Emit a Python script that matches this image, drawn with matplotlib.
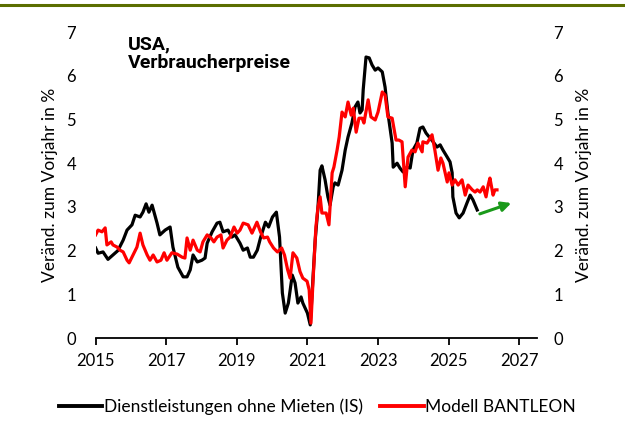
import matplotlib
matplotlib.use('Agg')
import matplotlib.pyplot as plt
from matplotlib.lines import Line2D

# Dienstleistungen ohne Mieten (black)
black_t = [2015.0, 2015.07, 2015.21, 2015.35, 2015.49, 2015.63, 2015.78, 2015.89, 2016.03, 2016.12,
           2016.26, 2016.34, 2016.43, 2016.51, 2016.6, 2016.74, 2016.82, 2016.97, 2017.11, 2017.19,
           2017.33, 2017.48, 2017.59, 2017.68, 2017.76, 2017.88, 2018.01, 2018.1, 2018.16, 2018.3,
           2018.44, 2018.52, 2018.61, 2018.75, 2018.86, 2018.95, 2019.09, 2019.18, 2019.3, 2019.38,
           2019.47, 2019.58, 2019.67, 2019.81, 2019.9, 2020.01, 2020.12, 2020.21, 2020.29, 2020.37,
           2020.46, 2020.57, 2020.65, 2020.73, 2020.82, 2020.87, 2021.0, 2021.08, 2021.22, 2021.3,
           2021.36, 2021.41, 2021.5, 2021.58, 2021.64, 2021.73, 2021.78, 2021.87, 2021.98, 2022.07,
           2022.15, 2022.26, 2022.35, 2022.43, 2022.49, 2022.55, 2022.58, 2022.66, 2022.75, 2022.83,
           2022.92, 2023.0, 2023.12, 2023.2, 2023.28, 2023.4, 2023.43, 2023.54, 2023.62, 2023.71,
           2023.82, 2023.91, 2023.99, 2024.1, 2024.19, 2024.27, 2024.36, 2024.47, 2024.56, 2024.67,
           2024.76, 2024.84, 2024.96, 2025.04, 2025.1, 2025.12, 2025.21, 2025.3, 2025.41, 2025.52,
           2025.61, 2025.69, 2025.81]
black_v = [2.06, 1.94, 1.97, 1.8, 1.9, 2.0, 2.24, 2.47, 2.59, 2.81,
           2.77, 2.88, 3.07, 2.88, 3.04, 2.63, 2.36, 2.47, 2.54, 2.08,
           1.62, 1.4, 1.4, 1.56, 1.9, 1.74, 1.78, 1.83, 2.17, 2.43,
           2.63, 2.65, 2.43, 2.47, 2.31, 2.36, 2.17, 2.01, 2.06, 1.85,
           1.85, 2.01, 2.29, 2.65, 2.54, 2.77, 2.88, 2.31, 1.03, 0.57,
           0.8, 1.44, 1.26, 0.8, 0.94, 0.8, 0.57, 0.3, 2.24, 3.0,
           3.84, 3.94, 3.62, 3.23, 3.04, 3.46, 3.55, 3.5, 3.84, 4.3,
           4.6, 4.92, 5.29, 5.4, 5.15, 5.22, 5.68, 6.43, 6.41, 6.25,
           6.13, 6.18, 6.09, 5.74, 5.15, 4.46, 3.91, 4.0, 3.89, 3.8,
           3.91, 3.89, 4.3, 4.46, 4.8, 4.83, 4.69, 4.58, 4.49, 4.37,
           4.42, 4.3, 4.14, 4.03, 3.78, 3.23, 2.86, 2.75, 2.86, 3.09,
           3.27, 3.16, 2.93]

# Modell BANTLEON (red)
red_t = [2015.0, 2015.07, 2015.18, 2015.27, 2015.32, 2015.44, 2015.49, 2015.61, 2015.69, 2015.78,
         2015.89, 2015.95, 2016.06, 2016.17, 2016.26, 2016.34, 2016.46, 2016.54, 2016.63, 2016.74,
         2016.85, 2016.94, 2017.02, 2017.16, 2017.31, 2017.45, 2017.53, 2017.59, 2017.68, 2017.76,
         2017.88, 2017.96, 2018.04, 2018.16, 2018.27, 2018.35, 2018.44, 2018.55, 2018.61, 2018.72,
         2018.81, 2018.92, 2019.01, 2019.09, 2019.18, 2019.32, 2019.43, 2019.57, 2019.67, 2019.76,
         2019.87, 2019.93, 2020.04, 2020.15, 2020.27, 2020.35, 2020.44, 2020.51, 2020.59, 2020.7,
         2020.79, 2020.87, 2020.99, 2021.05, 2021.1, 2021.16, 2021.24, 2021.3, 2021.36, 2021.41,
         2021.53, 2021.61, 2021.7, 2021.75, 2021.84, 2021.9, 2021.98, 2022.07, 2022.15, 2022.24,
         2022.3, 2022.38, 2022.46, 2022.55, 2022.6, 2022.72, 2022.8, 2022.92, 2023.0, 2023.12,
         2023.2, 2023.28, 2023.4, 2023.51, 2023.59, 2023.68, 2023.77, 2023.85, 2023.96, 2024.05,
         2024.13, 2024.25, 2024.27, 2024.39, 2024.53, 2024.61, 2024.7, 2024.78, 2024.84, 2024.96,
         2025.01, 2025.1, 2025.18, 2025.27, 2025.38, 2025.47, 2025.55, 2025.67, 2025.75, 2025.81,
         2025.89, 2025.98, 2026.06, 2026.12, 2026.17, 2026.26, 2026.31, 2026.37]
red_v = [2.36, 2.47, 2.43, 2.52, 2.13, 2.2, 2.13, 2.08, 2.01, 1.97,
         1.78, 1.72, 1.9, 2.08, 2.4, 2.13, 1.9, 1.78, 1.9, 1.74,
         1.78, 1.95, 1.78, 1.95, 1.92, 1.85, 1.83, 2.29, 2.01, 2.24,
         2.01, 1.97, 2.2, 2.36, 2.29, 2.2, 2.31, 2.36, 2.06, 2.24,
         2.31, 2.54, 2.4, 2.47, 2.63, 2.59, 2.4, 2.65, 2.43, 2.29,
         2.31, 2.2, 2.06, 1.97, 2.06, 1.9, 1.56, 1.37, 1.95, 1.83,
         1.52, 1.37, 1.3, 1.1, 0.34, 1.33, 2.54, 3.0, 3.23, 2.86,
         2.86, 2.59, 3.78, 3.91, 4.3, 4.6, 5.17, 5.06, 5.4, 5.1,
         5.26, 4.71, 5.03, 5.03, 4.92, 5.45, 5.06, 4.99, 5.17, 5.63,
         5.56, 5.06, 5.03, 4.53, 4.53, 4.49, 3.46, 4.14, 4.3, 4.26,
         4.46, 4.26, 4.49, 4.46, 4.65, 4.3, 3.84, 4.12, 4.0, 3.57,
         3.78, 3.5, 3.62, 3.5, 3.62, 3.27, 3.5, 3.39, 3.34, 3.39,
         3.34, 3.46, 3.23, 3.5, 3.66, 3.27, 3.39, 3.39]

x_ticks = [2015, 2017, 2019, 2021, 2023, 2025, 2027]
y_ticks = [0, 1, 2, 3, 4, 5, 6, 7]
arrow_start = (2025.81, 2.82)
arrow_end = (2026.85, 3.11)

fnt = 'Lato'

fig = plt.figure(figsize=(6.25, 4.37), dpi=100)
fig.add_artist(Line2D([0, 1], [0.988, 0.988], color='#5b6e00', lw=2.2, transform=fig.transFigure))

ax = fig.add_axes([0.153, 0.2265, 0.706, 0.700])
ax.plot(black_t, black_v, color='black', lw=2.3)
ax.plot(red_t, red_v, color='#ff0000', lw=2.3)
ax.annotate('', xy=arrow_end, xytext=arrow_start,
            arrowprops=dict(arrowstyle='-|>', color='#1a9a1a', lw=2.2, mutation_scale=14))

ax.set_xlim(2015, 2027.5)
ax.set_ylim(0, 7)
ax.set_xticks(x_ticks)
ax.set_yticks(y_ticks)
for s in ['top', 'right', 'left']:
    ax.spines[s].set_visible(False)
ax.spines['bottom'].set_linewidth(1.3)
ax.tick_params(axis='x', length=5, width=1.3, pad=6, labelsize=12)
ax.tick_params(axis='y', length=0, pad=14, labelsize=12)
for lab in ax.get_xticklabels() + ax.get_yticklabels():
    lab.set_fontfamily(fnt)
ax.set_ylabel('Veränd. zum Vorjahr in %', fontsize=12.5, family=fnt, labelpad=6)

ax2 = ax.twinx()
ax2.set_ylim(0, 7)
ax2.set_yticks(y_ticks)
for s in ['top', 'right', 'left', 'bottom']:
    ax2.spines[s].set_visible(False)
ax2.tick_params(axis='y', length=0, pad=12, labelsize=12)
for lab in ax2.get_yticklabels():
    lab.set_fontfamily(fnt)
ax2.set_ylabel('Veränd. zum Vorjahr in %', fontsize=12.5, family=fnt, labelpad=9)

ax.text(0.074, 0.99, 'USA,\nVerbraucherpreise', transform=ax.transAxes, ha='left', va='top',
        fontsize=14, fontweight='bold', family='Roboto', linespacing=1.05)

handles = [Line2D([], [], color='black', lw=2.8), Line2D([], [], color='#ff0000', lw=2.8)]
fig.legend(handles, ['Dienstleistungen ohne Mieten (IS)', 'Modell BANTLEON'],
           loc='center', bbox_to_anchor=(0.508, 0.069), ncol=2, frameon=False,
           prop={'family': fnt, 'size': 12.5}, handlelength=2.5, handletextpad=0.1, columnspacing=1.0)

fig.savefig('out.png', dpi=100)
